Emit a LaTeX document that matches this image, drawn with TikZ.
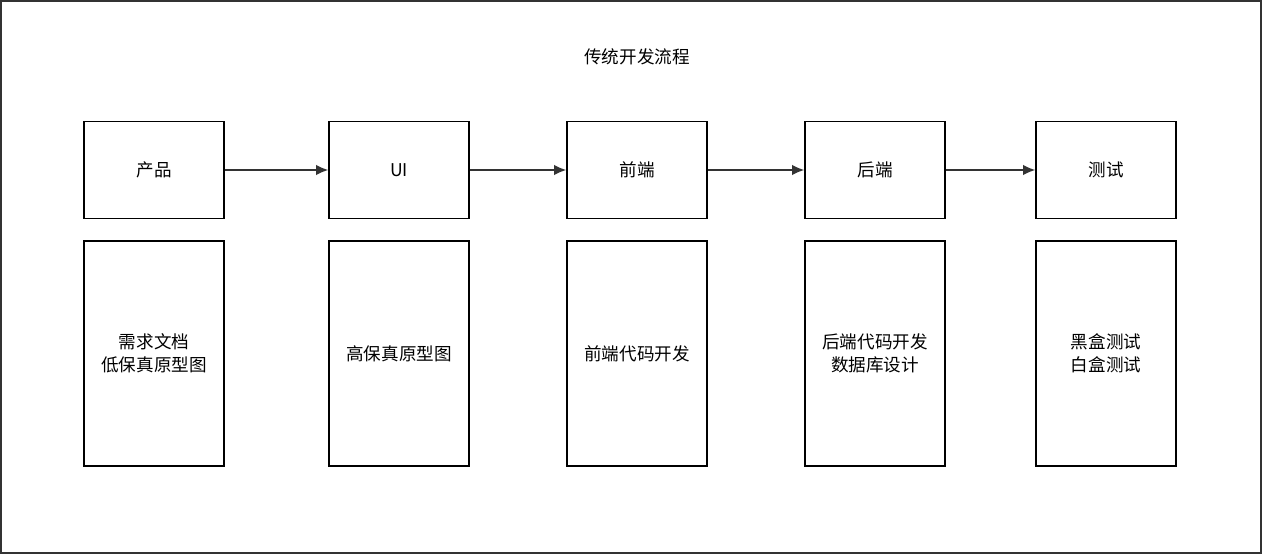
\documentclass[tikz,border=0pt]{standalone}
\usepackage{fontspec}
\setmainfont{Noto Sans CJK SC}
\usetikzlibrary{arrows.meta}
\begin{document}
\begin{tikzpicture}[x=0.02cm,y=-0.02cm,
  box/.style={draw,thick,inner sep=0pt,align=center,font=\fontsize{10}{13}\selectfont},
  >={Latex[length=7pt,width=6pt]}]
  \useasboundingbox (0,0) rectangle (1263,557);
  \draw[thick,color=black!80] (1,1) rectangle (1261,553);
  \node[font=\fontsize{10}{13}\selectfont] (title) at (637,57) {传统开发流程};
  \foreach \n/\x/\a/\b in
    {p/154/产品/需求文档\\低保真原型图, u/399/UI/高保真原型图,
     f/637/前端/前端代码开发, b/875/后端/后端代码开发\\数据库设计,
     t/1106/测试/黑盒测试\\白盒测试}
  {
    \node[box,minimum width=2.8cm,minimum height=1.94cm] (\n) at (\x,170) {\a};
    \node[box,minimum width=2.8cm,minimum height=4.5cm] (\n2) at (\x,353.5) {\b};
  }
  \foreach \s/\e in {p/u, u/f, f/b, b/t}
    \draw[->,thick,color=black!80] (\s) -- (\e);
\end{tikzpicture}
\end{document}
